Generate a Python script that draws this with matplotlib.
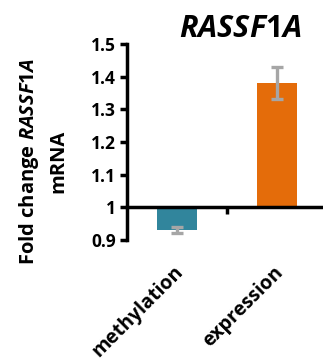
import matplotlib
matplotlib.use("Agg")
import matplotlib.pyplot as plt
import numpy as np

plt.rcParams['font.family'] = ['Open Sans', 'DejaVu Sans']
plt.rcParams['font.weight'] = 'bold'
plt.rcParams['mathtext.fontset'] = 'custom'
plt.rcParams['mathtext.it'] = 'Open Sans:italic:bold'
plt.rcParams['mathtext.rm'] = 'Open Sans:bold'

categories = ["methylation", "expression"]
fold_change = [0.93, 1.38]
errors = [0.01, 0.05]
colors = ["#31859C", "#E46C0A"]
yticks = [0.9, 1.0, 1.1, 1.2, 1.3, 1.4, 1.5]
ytick_labels = ["0.9", "1", "1.1", "1.2", "1.3", "1.4", "1.5"]

fig = plt.figure(figsize=(3.23, 3.63), dpi=100)
ax = fig.add_axes([0.393, 0.339, 0.62, 0.540])

x = np.arange(len(categories))
heights = [v - 1 for v in fold_change]
ax.bar(x, heights, bottom=1, width=0.4, color=colors, zorder=2)
ax.errorbar(x, fold_change, yerr=errors, fmt="none", ecolor="#A6A6A6",
            elinewidth=2.4, capsize=4, capthick=2.4, zorder=3)

ax.set_xlim(-0.5, 1.5)
ax.set_ylim(0.9, 1.5)
ax.set_yticks(yticks, ytick_labels, fontsize=12.5, fontweight='bold')

for s in ["top", "right"]:
    ax.spines[s].set_visible(False)
ax.spines["left"].set_linewidth(2.5)
ax.spines["bottom"].set_linewidth(2.5)
ax.spines["bottom"].set_position(("data", 1))
ax.tick_params(axis="y", width=2.5, length=5, direction="out", pad=3)
ax.set_xticks([0.5])
ax.set_xticklabels([])
ax.tick_params(axis="x", width=2.5, length=5, direction="out")

for i, c in enumerate(categories):
    ax.text(i + 0.03, -0.15, c, transform=ax.get_xaxis_transform(),
            rotation=45, rotation_mode="anchor", ha="right", va="center",
            fontsize=14, fontweight="bold")

fig.text(0.1316, 0.556, "Fold change $\\mathit{RASSF1A}$\nmRNA", rotation=90,
         ha="center", va="center", multialignment="center",
         fontsize=14.5, fontweight="bold", linespacing=1.45)
fig.text(0.743, 0.921, "$\\mathit{RASSF1A}$", ha="center", va="center",
         fontsize=22)

fig.savefig("out.png", dpi=100)
